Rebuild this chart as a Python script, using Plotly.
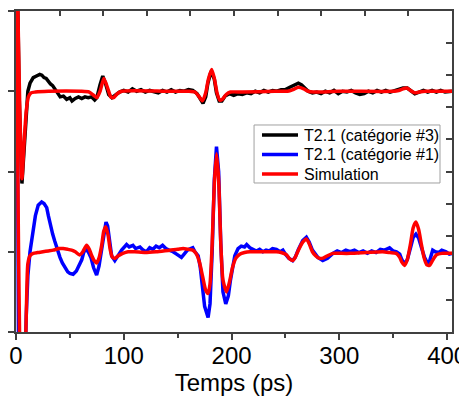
import plotly.graph_objects as go

# Temps (ps) et signaux (unités arbitraires, voie #3 décalée de +2)
x_cat3 = [0, 1.5, 3, 5.5, 7.5, 9.5, 11, 13, 16, 19, 22, 24, 26, 28, 30, 32, 34, 36, 38, 41, 44, 47, 50, 52, 55, 58,
          61, 64, 67, 70, 73, 75, 78, 80.5, 83, 86, 89, 92, 96, 100, 104, 108, 112, 116, 120, 124, 128, 132, 136,
          140, 144, 148, 152, 156, 160, 164, 168, 171, 173.5, 176, 178, 181, 184, 186, 188.5, 191, 194, 198, 202,
          206, 210, 214, 218, 222, 226, 230, 234, 238, 242, 246, 250, 254, 258, 262, 265, 268, 271, 275, 279, 283,
          287, 291, 295, 299, 303, 307, 311, 315, 319, 323, 327, 331, 335, 339, 343, 347, 351, 355, 359, 363, 367,
          370, 374, 378, 382, 386, 390, 394, 398, 402, 404.5]
y_cat3 = [5.5, 4.3, 2.9, 1.85, 2.3, 2.8, 3.0, 3.1, 3.17, 3.19, 3.21, 3.2, 3.17, 3.16, 3.12, 3.09, 3.07, 3.03, 3.0,
          2.93, 2.94, 2.9, 2.92, 2.88, 2.91, 2.93, 2.91, 2.93, 2.92, 2.93, 2.89, 2.92, 3.08, 3.19, 3.1, 2.96, 2.92,
          2.95, 2.99, 3.01, 2.99, 3.03, 3.0, 3.02, 2.99, 3.01, 3.0, 2.98, 3.01, 2.99, 3.02, 2.99, 3.01, 3.0, 3.02,
          3.01, 2.97, 2.9, 2.85, 2.93, 3.1, 3.25, 3.15, 2.98, 2.88, 2.88, 2.94, 2.97, 2.95, 2.97, 2.96, 2.98, 2.97,
          3.0, 2.98, 3.01, 2.99, 3.01, 3.0, 3.02, 3.02, 3.05, 3.08, 3.1, 3.08, 3.04, 3.0, 2.98, 2.99, 2.97, 3.0,
          2.98, 3.01, 2.97, 3.0, 2.99, 3.01, 2.98, 2.96, 2.97, 3.0, 2.98, 3.01, 2.99, 3.01, 2.99, 3.01, 3.02, 3.04,
          3.04, 3.0, 2.97, 2.99, 3.01, 2.99, 3.01, 2.99, 3.01, 2.99, 3.0, 3.0]

x_sim3 = [0, 1.5, 3.5, 5.5, 7.5, 9.5, 11.5, 14, 18, 30, 60, 68, 72, 75, 78, 81.5, 85, 88, 90.5, 94, 98, 140, 160,
          166, 170, 173, 176, 178.5, 181.5, 184, 186.5, 189, 191.5, 195, 199, 210, 240, 252, 257, 262, 267, 271,
          276, 300, 350, 355, 359, 362.5, 366, 370, 374, 380, 404.5]
y_sim3 = [5.5, 4.2, 2.8, 1.91, 2.35, 2.75, 2.93, 2.98, 2.99, 3.0, 3.0, 2.99, 2.95, 2.92, 3.0, 3.16, 3.04, 2.93, 2.92,
          2.97, 3.0, 3.0, 3.0, 2.99, 2.93, 2.88, 2.98, 3.15, 3.27, 3.16, 2.98, 2.89, 2.9, 2.96, 2.99, 2.99, 3.0, 3.0,
          3.02, 3.05, 3.03, 3.0, 2.99, 3.0, 3.0, 3.01, 3.03, 3.04, 3.01, 2.98, 2.99, 3.0, 3.0]

x_cat1 = [0, 0.8, 1.5, 2.5, 5, 8, 9.5, 11, 13, 16, 18, 20.6, 23.8, 26, 28.5, 30, 31.5, 34, 36, 38.5, 40.8, 43, 45.4,
          48, 50, 53, 56, 58.5, 61, 63, 65, 67, 69.5, 72, 74.8, 77, 79.5, 82, 83.5, 85, 87, 88.7, 91.7, 94, 96, 98,
          100, 102.6, 105, 108.5, 111, 115, 118, 121, 124, 127, 130, 133, 136, 139, 142, 145.7, 149, 151, 153.5,
          156, 159, 162, 164, 166, 169, 171, 173, 175, 178.2, 180, 182, 184, 186, 188, 190, 192, 194.6, 197, 199,
          201, 203, 206, 209, 212, 214, 217, 220, 223, 226, 229, 232, 235, 238, 241.6, 245, 247.6, 250, 253, 256.7,
          259, 262, 266, 269.4, 272, 275, 277, 280, 284.6, 289, 294, 298, 302, 306, 310, 314, 318, 322, 326, 330,
          334, 338, 342, 346.6, 350, 353, 356, 358, 360.5, 363, 366, 368.5, 371, 373.5, 376, 379, 382, 384, 386.6,
          389, 392, 395, 399, 402, 404.5]
y_cat1 = [6, 3.5, 1.0, -0.5, -1.5, -0.6, 0.2, 0.7, 1.0, 1.27, 1.45, 1.58, 1.62, 1.6, 1.55, 1.45, 1.35, 1.22, 1.13,
          1.02, 0.93, 0.86, 0.8, 0.75, 0.73, 0.72, 0.76, 0.82, 0.9, 1.0, 1.03, 1.0, 0.93, 0.8, 0.71, 0.82, 1.05, 1.3,
          1.37, 1.32, 1.1, 0.95, 0.89, 0.93, 0.98, 1.02, 1.05, 1.09, 1.06, 1.08, 1.04, 1.06, 1.02, 1.0, 1.05, 1.03,
          1.07, 1.05, 1.08, 1.04, 1.02, 1.0, 0.97, 0.95, 0.93, 0.97, 1.02, 1.04, 1.05, 1.0, 0.95, 0.8, 0.55, 0.32,
          0.18, 0.35, 1.0, 1.9, 2.31, 2.0, 1.1, 0.5, 0.35, 0.45, 0.65, 0.8, 0.95, 1.04, 1.07, 1.06, 1.09, 1.05, 1.03,
          1.01, 1.03, 1.0, 1.02, 1.01, 1.04, 1.03, 1.0, 1.02, 0.97, 0.92, 0.89, 0.93, 1.03, 1.14, 1.18, 1.12, 1.02,
          0.98, 0.93, 0.89, 0.92, 0.98, 1.01, 0.99, 1.02, 1.0, 1.02, 0.99, 1.01, 0.98, 1.01, 0.99, 1.03, 1.02, 1.05,
          1.01, 1.0, 0.97, 0.9, 0.85, 0.9, 1.05, 1.18, 1.22, 1.17, 1.06, 0.93, 0.85, 0.9, 1.02, 1.0, 0.99, 1.02, 1.0,
          0.97, 0.98]

x_sim1 = [0, 1, 2, 3, 5, 7.5, 9, 10, 11, 13, 16, 20, 25, 30, 34.6, 40, 43.7, 48, 51.6, 55, 59, 62, 65.5, 68, 70,
          72.5, 74.8, 77, 79.5, 81.5, 83.4, 85.5, 87.5, 89.5, 92, 95, 99, 104, 110, 120, 130, 142.7, 150, 155, 160,
          164, 167, 170, 173, 176, 178.2, 180, 182, 184, 186, 188, 190, 192, 195.3, 198, 201, 204, 207.6, 212, 217,
          230, 241.6, 246, 251, 254, 256.7, 259, 262, 266, 269.4, 272, 275, 278, 281, 284.8, 289, 294, 300, 310,
          325, 340, 347, 352.8, 356, 358, 360.5, 363, 366, 368.5, 371, 373.5, 376, 378.5, 381, 383.7, 386, 390,
          395, 399, 404.5]
y_sim1 = [6, 3.5, 1.5, 0.3, -1.0, -0.8, -0.1, 0.5, 0.85, 0.95, 0.98, 0.99, 1.0, 1.01, 1.02, 1.04, 1.04, 1.03, 1.02,
          1.0, 0.96, 1.0, 1.08, 1.03, 0.96, 0.89, 0.86, 0.92, 1.08, 1.26, 1.31, 1.2, 1.02, 0.93, 0.92, 0.95, 0.98,
          1.0, 1.0, 0.99, 1.0, 1.02, 1.03, 1.04, 1.03, 1.02, 0.98, 0.88, 0.7, 0.52, 0.48, 0.6, 1.1, 1.85, 2.22, 1.9,
          1.1, 0.65, 0.5, 0.62, 0.81, 0.92, 0.97, 0.99, 1.0, 1.0, 1.0, 0.99, 0.96, 0.91, 0.89, 0.93, 1.02, 1.12,
          1.16, 1.1, 1.0, 0.95, 0.92, 0.92, 0.95, 0.98, 0.98, 0.98, 0.99, 1.0, 0.99, 0.98, 0.93, 0.87, 0.83, 0.9,
          1.1, 1.3, 1.37, 1.28, 1.1, 0.93, 0.84, 0.83, 0.88, 0.96, 0.98, 0.98, 0.98]

noms = ["T2.1 (catégorie #3)", "T2.1 (catégorie #1)", "Simulation"]
couleurs = ["black", "#0000ff", "#ff0000"]

police = "Arial, Liberation Sans, sans-serif"
axe = "#404040"

fig = go.Figure()

# Mesures puis simulations (la simulation passe au-dessus)
fig.add_trace(go.Scatter(x=x_cat3, y=y_cat3, mode="lines", name=noms[0],
                         line=dict(color=couleurs[0], width=3.5)))
fig.add_trace(go.Scatter(x=x_cat1, y=y_cat1, mode="lines", name=noms[1],
                         line=dict(color=couleurs[1], width=3.5)))
fig.add_trace(go.Scatter(x=x_sim1, y=y_sim1, mode="lines", name=noms[2],
                         line=dict(color=couleurs[2], width=3.5, shape="spline", smoothing=0.6)))
fig.add_trace(go.Scatter(x=x_sim3, y=y_sim3, mode="lines", name=noms[2],
                         line=dict(color=couleurs[2], width=3.5, shape="spline", smoothing=0.6)))
# trace vide pour faire apparaître les axes du haut et de droite
fig.add_trace(go.Scatter(x=[], y=[], xaxis="x2", yaxis="y2"))

# Légende dessinée à la main (la légende plotly espace trop les lignes)
fig.add_shape(type="rect", xref="paper", yref="paper", x0=0.546, x1=0.9725, y0=0.4642, y1=0.6449,
              line=dict(color="#a0a0a0", width=1), fillcolor="white", layer="above")
for i, (nom, coul) in enumerate(zip(noms, couleurs)):
    yl = 0.6137 - i * 0.0608
    fig.add_shape(type="line", xref="paper", yref="paper", x0=0.5642, x1=0.6468, y0=yl, y1=yl,
                  line=dict(color=coul, width=3.5), layer="above")
    fig.add_annotation(x=0.656, y=yl, xref="paper", yref="paper", text=nom, showarrow=False,
                       xanchor="left", yanchor="middle", font=dict(size=16, family=police, color="black"))

# la page ajoute une marge de 8 px autour du graphique : figure réduite d'autant
fig.update_layout(
    width=459, height=389,
    margin=dict(l=8, r=15, t=3, b=65, autoexpand=False),
    paper_bgcolor="white", plot_bgcolor="white",
    font=dict(family=police, color="black"),
    showlegend=False,
    xaxis=dict(range=[0, 404.5], tickmode="linear", tick0=0, dtick=100, automargin=False,
               ticks="outside", ticklen=6, tickwidth=1.5, tickcolor=axe, ticklabeloverflow="allow",
               ticklabelstandoff=-5,
               minor=dict(dtick=50, ticks="outside", ticklen=4, tickwidth=1.5, tickcolor=axe),
               showline=True, linecolor=axe, linewidth=1.5, mirror=True,
               showgrid=False, zeroline=False,
               tickfont=dict(size=24, family=police),
               title=dict(text="Temps (ps)", font=dict(size=24, family=police), standoff=2)),
    yaxis=dict(range=[0, 4], tickmode="linear", tick0=0, dtick=1, automargin=False,
               ticks="outside", ticklen=7, tickwidth=1.5, tickcolor=axe,
               showticklabels=False, showline=True, linecolor=axe, linewidth=1.5, mirror=True,
               showgrid=False, zeroline=False),
    xaxis2=dict(overlaying="x", side="top", range=[0, 10], tickmode="linear", tick0=0, dtick=1,
                automargin=False, ticks="inside", ticklen=5, tickwidth=1.5, tickcolor=axe,
                showticklabels=False, showline=False, showgrid=False, zeroline=False),
    yaxis2=dict(overlaying="y", side="right", range=[0, 4], tickmode="linear", tick0=0, dtick=0.4,
                automargin=False, ticks="inside", ticklen=6, tickwidth=1.5, tickcolor=axe,
                showticklabels=False, showline=False, showgrid=False, zeroline=False),
)

fig.write_html("out.html")
